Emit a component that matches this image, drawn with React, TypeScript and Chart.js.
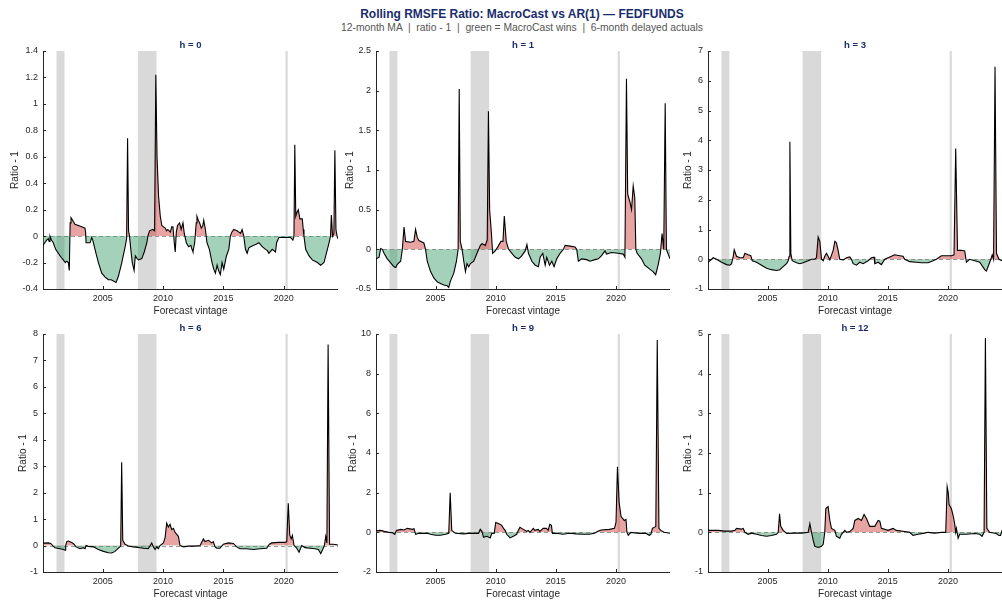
import React, { useEffect, useRef } from "react";
import { Chart, registerables } from "chart.js";

Chart.register(...registerables);

const FONT = "'Liberation Sans', Arial, Helvetica, sans-serif";
const NAVY = "#1a2d6b";
const AXIS = "#262626";
const RED = "rgba(204,51,51,0.45)";
const GREEN = "rgba(51,153,102,0.45)";
const BAND = "#d9d9d9";

const TITLE = "Rolling RMSFE Ratio: MacroCast vs AR(1) \u2014 FEDFUNDS";
const SUBTITLE = "12-month MA  |  ratio - 1  |  green = MacroCast wins  |  6-month delayed actuals";

const X_MIN = 2000.05;
const X_MAX = 2024.5;
const X_TICKS = [2005, 2010, 2015, 2020];
const RECESSIONS = [
  [2001.17, 2001.83],
  [2007.92, 2009.46],
  [2020.15, 2020.33],
];

// [forecast vintage (year), ratio - 1]
const H0 = [[2000.05,-0.07],[2000.2,-0.05],[2000.35,-0.03],[2000.49,-0.02],[2000.56,-0.04],[2000.63,0.0],[2000.75,-0.03],[2000.9,-0.05],[2001.1,-0.1],[2001.32,-0.13],[2001.55,-0.16],[2001.73,-0.18],[2001.9,-0.2],[2002.01,-0.19],[2002.15,-0.2],[2002.23,-0.26],[2002.3,0.1],[2002.37,0.14],[2002.51,0.12],[2002.7,0.09],[2002.98,0.08],[2003.26,0.07],[2003.53,0.06],[2003.58,0.03],[2003.62,-0.05],[2003.95,-0.05],[2004.09,-0.01],[2004.2,-0.04],[2004.36,-0.1],[2004.64,-0.2],[2004.92,-0.28],[2005.2,-0.31],[2005.47,-0.33],[2005.7,-0.33],[2005.89,-0.34],[2006.11,-0.35],[2006.31,-0.3],[2006.58,-0.2],[2006.86,-0.08],[2006.98,-0.02],[2007.06,0.74],[2007.14,0.04],[2007.22,0.0],[2007.35,-0.12],[2007.45,-0.2],[2007.6,-0.26],[2007.7,-0.15],[2007.85,-0.17],[2007.97,-0.18],[2008.24,-0.17],[2008.44,-0.12],[2008.66,-0.05],[2008.74,0.0],[2008.88,0.04],[2009.16,0.05],[2009.3,0.04],[2009.4,1.22],[2009.5,0.6],[2009.63,0.3],[2009.77,0.15],[2009.9,0.08],[2010.04,0.07],[2010.18,0.06],[2010.3,0.04],[2010.4,0.05],[2010.6,0.03],[2010.72,0.07],[2010.82,0.07],[2010.93,-0.05],[2011.01,-0.12],[2011.1,0.03],[2011.2,0.08],[2011.37,0.1],[2011.5,0.05],[2011.57,0.05],[2011.65,0.1],[2011.76,0.02],[2011.93,-0.05],[2012.12,-0.08],[2012.3,-0.07],[2012.4,-0.1],[2012.48,-0.12],[2012.62,-0.05],[2012.75,0.1],[2012.81,0.15],[2012.92,0.12],[2013.03,0.1],[2013.17,0.06],[2013.3,0.08],[2013.37,0.12],[2013.51,0.05],[2013.64,-0.05],[2013.84,-0.1],[2014.06,-0.2],[2014.2,-0.25],[2014.34,-0.28],[2014.48,-0.22],[2014.6,-0.26],[2014.75,-0.29],[2014.89,-0.2],[2015.03,-0.25],[2015.25,-0.15],[2015.45,-0.1],[2015.58,0.0],[2015.7,0.03],[2015.86,0.05],[2016.14,0.04],[2016.42,0.02],[2016.55,0.05],[2016.69,0.0],[2016.83,-0.1],[2016.97,-0.13],[2017.1,-0.09],[2017.25,-0.08],[2017.52,-0.07],[2017.75,-0.06],[2017.94,-0.05],[2018.22,-0.08],[2018.49,-0.1],[2018.65,-0.11],[2018.77,-0.13],[2019.05,-0.1],[2019.32,-0.12],[2019.41,-0.05],[2019.6,-0.01],[2020.02,-0.01],[2020.57,-0.01],[2020.76,-0.03],[2020.85,0.0],[2020.92,0.69],[2021.0,0.15],[2021.1,0.18],[2021.21,0.2],[2021.34,0.13],[2021.54,0.13],[2021.62,0.05],[2021.68,0.0],[2021.82,-0.1],[2022.1,-0.15],[2022.37,-0.18],[2022.6,-0.19],[2022.79,-0.2],[2023.06,-0.22],[2023.2,-0.21],[2023.34,-0.2],[2023.62,-0.1],[2023.76,-0.05],[2023.88,0.0],[2023.95,0.16],[2024.05,0.0],[2024.16,0.02],[2024.24,0.65],[2024.33,0.05],[2024.42,0.0],[2024.5,-0.02]];

const H1 = [[2000.05,-0.12],[2000.3,-0.1],[2000.44,0.01],[2000.58,0.0],[2000.72,-0.05],[2000.99,-0.12],[2001.27,-0.17],[2001.55,-0.22],[2001.69,-0.23],[2001.82,-0.19],[2002.1,-0.15],[2002.24,0.0],[2002.38,0.28],[2002.51,0.1],[2002.93,0.09],[2003.2,0.1],[2003.34,0.25],[2003.48,0.15],[2003.62,0.11],[2004.03,0.08],[2004.17,0.0],[2004.31,-0.15],[2004.59,-0.28],[2004.86,-0.36],[2005.14,-0.41],[2005.41,-0.43],[2005.69,-0.45],[2005.97,-0.46],[2006.1,-0.48],[2006.24,-0.4],[2006.52,-0.3],[2006.74,-0.15],[2006.88,0.0],[2006.97,2.02],[2007.06,0.1],[2007.21,0.0],[2007.35,-0.15],[2007.49,-0.28],[2007.62,-0.18],[2007.76,-0.22],[2007.9,-0.18],[2008.18,-0.15],[2008.45,-0.05],[2008.73,0.05],[2008.87,0.07],[2009.14,0.05],[2009.3,0.12],[2009.4,1.74],[2009.5,0.5],[2009.65,0.2],[2009.75,-0.05],[2009.97,-0.02],[2010.25,0.05],[2010.44,0.1],[2010.61,0.1],[2010.72,0.42],[2010.88,0.1],[2011.08,0.0],[2011.35,-0.05],[2011.63,-0.1],[2011.91,-0.12],[2012.18,-0.08],[2012.46,-0.02],[2012.6,0.06],[2012.73,-0.05],[2013.01,-0.15],[2013.29,-0.2],[2013.56,-0.22],[2013.7,-0.1],[2013.92,-0.05],[2014.12,-0.2],[2014.25,-0.1],[2014.48,-0.2],[2014.67,-0.15],[2014.86,-0.22],[2015.08,-0.12],[2015.36,-0.05],[2015.64,0.0],[2015.77,0.05],[2016.19,0.04],[2016.6,0.03],[2016.74,0.0],[2016.88,-0.15],[2017.15,-0.12],[2017.57,-0.13],[2017.85,-0.15],[2018.26,-0.13],[2018.54,-0.12],[2018.81,-0.08],[2019.09,-0.02],[2019.23,-0.06],[2019.64,-0.04],[2020.19,-0.05],[2020.61,-0.06],[2020.75,-0.1],[2020.88,2.15],[2020.98,0.7],[2021.16,0.6],[2021.3,0.5],[2021.44,0.8],[2021.57,0.65],[2021.66,0.0],[2021.77,-0.05],[2022.13,-0.12],[2022.4,-0.2],[2022.82,-0.25],[2023.09,-0.28],[2023.31,-0.32],[2023.51,-0.2],[2023.7,-0.05],[2023.84,0.2],[2023.98,0.0],[2024.1,1.84],[2024.2,0.0],[2024.5,-0.12]];

const H3 = [[2000.05,-0.1],[2000.35,0.0],[2000.48,0.05],[2000.76,0.0],[2001.18,-0.1],[2001.59,-0.18],[2001.87,-0.2],[2002.01,-0.15],[2002.15,0.1],[2002.23,0.32],[2002.42,0.1],[2002.7,0.05],[2002.98,0.05],[2003.12,0.2],[2003.39,0.15],[2003.61,0.12],[2003.73,-0.05],[2004.09,-0.1],[2004.5,-0.2],[2004.92,-0.3],[2005.33,-0.35],[2005.75,-0.38],[2006.02,-0.35],[2006.3,-0.25],[2006.58,-0.15],[2006.72,-0.05],[2006.8,0.1],[2006.86,3.95],[2006.94,0.2],[2007.05,-0.05],[2007.41,-0.12],[2007.69,-0.15],[2007.96,-0.12],[2008.38,-0.05],[2008.66,0.0],[2008.93,0.0],[2009.07,0.05],[2009.21,0.75],[2009.35,0.6],[2009.49,0.0],[2009.63,-0.05],[2009.76,0.1],[2009.9,0.2],[2010.04,0.1],[2010.18,-0.02],[2010.46,0.3],[2010.6,0.6],[2010.73,0.55],[2010.87,0.3],[2011.01,0.0],[2011.29,-0.02],[2011.57,0.05],[2011.84,0.08],[2011.98,0.0],[2012.12,-0.15],[2012.4,-0.2],[2012.67,-0.1],[2012.95,-0.15],[2013.37,-0.05],[2013.64,0.05],[2013.86,0.07],[2013.92,-0.15],[2014.2,-0.1],[2014.47,-0.18],[2014.75,0.0],[2015.03,0.05],[2015.31,0.1],[2015.58,0.15],[2016.0,0.12],[2016.27,0.1],[2016.41,0.0],[2016.83,-0.08],[2017.38,-0.1],[2017.8,-0.12],[2018.35,-0.12],[2018.77,-0.05],[2019.04,0.0],[2019.46,0.12],[2019.88,0.12],[2020.3,0.12],[2020.51,0.15],[2020.65,3.72],[2020.8,0.3],[2021.12,0.3],[2021.4,0.28],[2021.54,-0.1],[2021.81,0.0],[2022.23,-0.05],[2022.65,-0.1],[2023.06,-0.35],[2023.2,-0.4],[2023.39,-0.2],[2023.61,0.05],[2023.69,0.15],[2023.8,0.0],[2023.92,6.47],[2024.04,0.2],[2024.25,0.0],[2024.5,-0.05]];

const H6 = [[2000.05,0.09],[2000.5,0.1],[2000.69,0.08],[2000.86,0.0],[2001.05,-0.08],[2001.46,-0.12],[2001.74,-0.15],[2001.88,-0.18],[2001.93,0.0],[2002.02,0.15],[2002.15,0.17],[2002.43,0.12],[2002.62,0.05],[2002.79,-0.05],[2003.12,-0.12],[2003.4,-0.08],[2003.54,-0.12],[2003.62,0.0],[2003.81,-0.03],[2004.23,-0.05],[2004.64,-0.15],[2005.06,-0.22],[2005.47,-0.27],[2005.75,-0.28],[2006.02,-0.22],[2006.3,-0.1],[2006.49,-0.02],[2006.57,3.15],[2006.66,0.2],[2006.85,0.05],[2007.13,-0.02],[2007.54,-0.05],[2008.09,-0.08],[2008.37,-0.1],[2008.78,-0.12],[2009.06,0.1],[2009.2,-0.05],[2009.34,-0.15],[2009.48,-0.05],[2009.61,-0.12],[2009.75,0.0],[2010.03,0.1],[2010.17,0.3],[2010.3,0.85],[2010.44,0.7],[2010.58,0.8],[2010.72,0.6],[2010.86,0.65],[2010.99,0.5],[2011.27,0.35],[2011.41,0.0],[2011.69,-0.05],[2012.1,-0.02],[2012.65,-0.02],[2013.07,0.0],[2013.34,0.25],[2013.48,0.15],[2013.76,0.2],[2014.03,0.1],[2014.17,0.15],[2014.31,-0.05],[2014.45,-0.1],[2014.72,-0.1],[2015.0,0.05],[2015.41,0.1],[2015.83,0.08],[2016.1,-0.05],[2016.38,-0.12],[2016.93,-0.12],[2017.49,-0.15],[2018.04,-0.12],[2018.59,-0.1],[2018.81,0.05],[2019.01,0.1],[2019.56,0.12],[2020.11,0.12],[2020.25,0.15],[2020.38,1.6],[2020.5,0.4],[2020.62,0.25],[2020.72,0.38],[2020.86,0.0],[2021.08,-0.1],[2021.27,-0.25],[2021.49,0.0],[2021.77,-0.08],[2022.18,-0.1],[2022.6,-0.12],[2022.87,-0.15],[2023.07,-0.3],[2023.23,-0.15],[2023.37,0.0],[2023.48,0.35],[2023.58,0.1],[2023.68,7.6],[2023.8,0.05],[2024.12,0.05],[2024.5,0.02]];

const H9 = [[2000.05,0.08],[2000.45,0.1],[2000.73,0.05],[2001.14,0.0],[2001.42,-0.02],[2001.61,-0.1],[2001.75,0.1],[2002.11,0.15],[2002.38,0.12],[2002.66,0.2],[2003.07,0.15],[2003.21,0.18],[2003.35,-0.1],[2003.62,-0.05],[2004.31,-0.05],[2004.59,-0.1],[2005.0,-0.15],[2005.41,-0.15],[2005.83,-0.1],[2006.1,-0.05],[2006.22,2.0],[2006.35,0.1],[2006.65,-0.05],[2007.34,-0.08],[2007.89,-0.05],[2008.58,-0.05],[2008.72,0.15],[2008.86,0.05],[2008.99,-0.25],[2009.27,-0.2],[2009.55,-0.28],[2009.68,-0.05],[2009.88,-0.05],[2010.01,0.5],[2010.23,0.45],[2010.51,0.35],[2010.65,0.2],[2010.79,0.1],[2010.92,-0.1],[2011.2,-0.28],[2011.47,-0.2],[2011.75,-0.1],[2011.89,0.1],[2012.02,0.25],[2012.3,0.15],[2012.58,0.05],[2012.71,0.1],[2012.85,0.0],[2013.13,0.2],[2013.26,0.1],[2013.54,0.15],[2013.68,0.05],[2013.95,0.2],[2014.23,0.2],[2014.37,0.1],[2014.5,0.4],[2014.64,0.35],[2014.72,-0.05],[2015.05,-0.05],[2015.6,-0.1],[2016.14,-0.05],[2016.69,-0.08],[2017.25,-0.1],[2017.8,-0.1],[2018.22,-0.05],[2018.5,0.05],[2018.77,0.12],[2019.46,0.15],[2019.88,0.2],[2020.01,0.5],[2020.13,3.3],[2020.27,1.5],[2020.43,0.8],[2020.56,0.7],[2020.7,0.6],[2020.84,0.65],[2020.92,0.0],[2021.03,-0.15],[2021.25,0.0],[2021.94,-0.05],[2022.49,-0.05],[2022.77,-0.15],[2022.91,-0.1],[2023.04,0.2],[2023.18,0.25],[2023.32,0.3],[2023.44,9.7],[2023.58,0.2],[2023.73,0.1],[2024.01,0.0],[2024.5,-0.05]];

const H12 = [[2000.05,0.05],[2000.9,0.05],[2001.45,0.03],[2002.01,0.03],[2002.29,0.05],[2002.42,0.1],[2002.84,0.08],[2002.98,0.1],[2003.12,0.0],[2003.39,-0.05],[2003.67,-0.02],[2004.09,-0.05],[2004.5,-0.08],[2004.92,-0.1],[2005.33,-0.08],[2005.75,-0.05],[2005.89,0.0],[2006.0,0.47],[2006.1,0.15],[2006.3,0.05],[2006.58,-0.03],[2007.27,-0.02],[2007.83,-0.02],[2008.38,0.0],[2008.52,0.22],[2008.66,0.0],[2008.8,-0.2],[2008.93,-0.35],[2009.21,-0.38],[2009.49,-0.35],[2009.63,-0.3],[2009.76,0.0],[2009.85,0.6],[2010.04,0.65],[2010.18,0.3],[2010.32,0.1],[2010.6,0.05],[2010.73,-0.1],[2011.01,-0.15],[2011.15,-0.05],[2011.43,0.05],[2011.57,0.0],[2011.84,0.02],[2012.12,0.1],[2012.26,0.3],[2012.54,0.35],[2012.81,0.3],[2013.03,0.45],[2013.23,0.35],[2013.5,0.15],[2013.92,0.15],[2014.2,0.3],[2014.34,0.28],[2014.47,0.1],[2015.03,0.05],[2015.44,0.1],[2015.71,0.05],[2016.41,0.02],[2016.83,0.0],[2017.1,-0.08],[2017.52,-0.05],[2018.07,-0.02],[2018.35,0.0],[2018.9,-0.02],[2019.46,0.0],[2019.82,0.0],[2019.94,1.15],[2020.03,1.0],[2020.1,0.7],[2020.29,0.6],[2020.45,0.4],[2020.57,0.2],[2020.65,0.0],[2020.71,0.1],[2020.85,-0.15],[2020.98,-0.05],[2021.54,-0.05],[2022.23,-0.03],[2022.65,-0.05],[2022.84,-0.1],[2023.01,0.0],[2023.12,4.9],[2023.24,0.1],[2023.47,0.0],[2024.02,-0.03],[2024.25,-0.08],[2024.38,-0.08],[2024.5,0.05]];

const PANEL_TITLES = ["h = 0", "h = 1", "h = 3", "h = 6", "h = 9", "h = 12"];
const PANEL_DATA = [H0, H1, H3, H6, H9, H12];
const Y_MIN = [-0.4, -0.5, -1, -1, -2, -1];
const Y_MAX = [1.4, 2.5, 7, 8, 10, 5];
const Y_STEP = [0.2, 0.5, 1, 1, 2, 1];

// layout (pixels)
const PLOT_LEFT = [43, 376, 708];
const PLOT_W = [295, 294, 294];
const PLOT_TOP = [51, 334];
const PLOT_H = 238;
const Y_AXIS_W = 43;
const TITLE_H = 22;
const X_AXIS_H = 30;
const Y_TITLE_DIST = [28, 26, 20, 20, 23, 20];

const decorPlugin = {
  id: "decor",
  beforeDatasetsDraw(chart: any) {
    const { ctx, chartArea: a, scales } = chart;
    const x = scales.x;
    const y = scales.y;
    ctx.save();
    ctx.fillStyle = BAND;
    for (const [s, e] of RECESSIONS) {
      const x0 = x.getPixelForValue(s);
      const x1 = x.getPixelForValue(e);
      ctx.fillRect(x0, a.top, Math.max(1, x1 - x0), a.bottom - a.top);
    }
    const y0 = Math.round(y.getPixelForValue(0)) + 0.5;
    ctx.strokeStyle = "#9a9a9a";
    ctx.lineWidth = 1;
    ctx.setLineDash([4, 3]);
    ctx.beginPath();
    ctx.moveTo(a.left, y0);
    ctx.lineTo(a.right, y0);
    ctx.stroke();
    ctx.restore();
  },
  afterDraw(chart: any) {
    const { ctx, chartArea: a, scales } = chart;
    const x = scales.x;
    const y = scales.y;
    ctx.save();
    ctx.strokeStyle = AXIS;
    ctx.lineWidth = 1;
    ctx.beginPath();
    for (const t of y.ticks) {
      const py = Math.round(y.getPixelForValue(t.value)) + 0.5;
      ctx.moveTo(a.left, py);
      ctx.lineTo(a.left + 3, py);
    }
    for (const t of x.ticks) {
      const px = Math.round(x.getPixelForValue(t.value)) + 0.5;
      ctx.moveTo(px, a.bottom);
      ctx.lineTo(px, a.bottom - 3);
    }
    ctx.stroke();
    ctx.restore();
  },
};

function Panel({ index }: { index: number }) {
  const ref = useRef<HTMLCanvasElement | null>(null);
  const col = index % 3;
  const row = Math.floor(index / 3);
  const left = PLOT_LEFT[col] - Y_AXIS_W;
  const top = PLOT_TOP[row] - TITLE_H;
  const width = Y_AXIS_W + PLOT_W[col];
  const height = TITLE_H + PLOT_H + X_AXIS_H;

  useEffect(() => {
    if (!ref.current) return;
    const pts = PANEL_DATA[index].map(([x, y]) => ({ x, y }));
    const chart = new Chart(ref.current, {
      type: "line",
      data: {
        datasets: [
          {
            data: pts,
            borderColor: "#000",
            borderWidth: 1.1,
            pointRadius: 0,
            tension: 0,
            fill: { target: { value: 0 }, above: RED, below: GREEN },
          } as any,
        ],
      },
      options: {
        animation: false,
        responsive: false,
        maintainAspectRatio: false,
        devicePixelRatio: 1,
        layout: { padding: 0 },
        events: [],
        plugins: {
          legend: { display: false },
          tooltip: { enabled: false },
          title: {
            display: true,
            fullSize: false,
            text: PANEL_TITLES[index],
            color: NAVY,
            font: { family: FONT, size: 9.5, weight: "bold", lineHeight: 1.2 },
            padding: { top: 10.6, bottom: 0 },
          },
        },
        scales: {
          x: {
            type: "linear",
            min: X_MIN,
            max: X_MAX,
            grid: { display: false, drawTicks: false },
            border: { display: true, color: AXIS, width: 1 },
            afterBuildTicks: (s: any) => {
              s.ticks = X_TICKS.map((v) => ({ value: v }));
            },
            afterFit: (s: any) => {
              s.height = X_AXIS_H;
            },
            ticks: {
              padding: 4,
              color: AXIS,
              font: { family: FONT, size: 9 },
              maxRotation: 0,
              autoSkip: false,
              callback: (v: any) => String(v),
            },
            title: {
              display: true,
              text: "Forecast vintage",
              color: AXIS,
              font: { family: FONT, size: 10, lineHeight: 1.2 },
              padding: { top: 0, bottom: 2 },
            },
          },
          y: {
            min: Y_MIN[index],
            max: Y_MAX[index],
            grid: { display: false, drawTicks: false },
            border: { display: true, color: AXIS, width: 1 },
            afterFit: (s: any) => {
              s.width = Y_AXIS_W;
            },
            ticks: {
              stepSize: Y_STEP[index],
              padding: 5,
              color: AXIS,
              font: { family: FONT, size: 9 },
              autoSkip: false,
              callback: (v: any) => String(Math.round(Number(v) * 1000) / 1000),
            },
            title: {
              display: true,
              text: "Ratio - 1",
              color: AXIS,
              font: { family: FONT, size: 10, lineHeight: 1.2 },
              padding: { top: Y_AXIS_W - 6 - Y_TITLE_DIST[index], bottom: 0 },
            },
          },
        },
      } as any,
      plugins: [decorPlugin],
    });
    return () => chart.destroy();
  }, [index]);

  return (
    <canvas
      ref={ref}
      width={width}
      height={height}
      style={{ position: "absolute", left, top, width, height }}
    />
  );
}

export default function App() {
  return (
    <div
      style={{
        position: "absolute",
        left: 0,
        top: 0,
        width: 1002,
        height: 601,
        background: "#fff",
        overflow: "hidden",
        fontFamily: FONT,
      }}
    >
      <div
        style={{
          position: "absolute",
          left: 43,
          width: 958,
          top: 6,
          textAlign: "center",
          fontSize: 12,
          lineHeight: "16px",
          fontWeight: "bold",
          color: NAVY,
          whiteSpace: "pre",
        }}
      >
        {TITLE}
      </div>
      <div
        style={{
          position: "absolute",
          left: 43,
          width: 958,
          top: 21,
          textAlign: "center",
          fontSize: 10.3,
          lineHeight: "13px",
          color: "#555",
          whiteSpace: "pre",
        }}
      >
        {SUBTITLE}
      </div>
      {[0, 1, 2, 3, 4, 5].map((i) => (
        <Panel key={i} index={i} />
      ))}
    </div>
  );
}
